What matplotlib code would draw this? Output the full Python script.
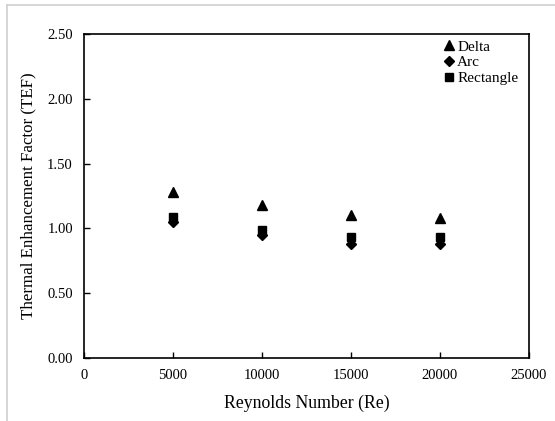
import matplotlib
matplotlib.use('Agg')
import matplotlib.pyplot as plt
from matplotlib.lines import Line2D

re_values = [5000, 10000, 15000, 20000]
tef_delta = [1.28, 1.18, 1.10, 1.08]
tef_arc = [1.05, 0.95, 0.88, 0.88]
tef_rect = [1.09, 0.99, 0.93, 0.93]

x_ticks = [0, 5000, 10000, 15000, 20000, 25000]
y_ticks = [0.0, 0.5, 1.0, 1.5, 2.0, 2.5]

plt.rcParams['font.family'] = ['Liberation Serif', 'DejaVu Serif']

fig = plt.figure(figsize=(5.55, 4.21), dpi=100)
ax = fig.add_axes([84 / 555, 1 - 358 / 421, 445 / 555, 324 / 421])

ax.plot(re_values, tef_delta, linestyle='none', marker='^', color='black',
        markersize=7, label='Delta')
ax.plot(re_values, tef_arc, linestyle='none', marker='D', color='black',
        markersize=5.5, label='Arc')
ax.plot(re_values, tef_rect, linestyle='none', marker='s', color='black',
        markersize=5.5, label='Rectangle')

ax.set_xlim(0, 25000)
ax.set_ylim(0, 2.5)
ax.set_xticks(x_ticks)
ax.set_yticks(y_ticks)
ax.set_yticklabels([f'{v:.2f}' for v in y_ticks])
ax.tick_params(direction='in', length=4, width=1, labelsize=10.5, pad=8)
for s in ax.spines.values():
    s.set_linewidth(1.2)

ax.set_xlabel('Reynolds Number (Re)', fontsize=12.8, labelpad=9)
ax.set_ylabel('Thermal Enhancement Factor (TEF)', fontsize=12.2, labelpad=8)

ax.legend(loc='upper right', frameon=False, fontsize=11, handlelength=0.7,
          handletextpad=0.2, labelspacing=0.12, borderaxespad=0.0,
          bbox_to_anchor=(0.99, 1.0))

# light gray frame around the picture (left and top edges visible)
fig.add_artist(Line2D([7 / 555, 7 / 555], [0, 1 - 5 / 421], color='#d0d0d0',
                      linewidth=1.2, transform=fig.transFigure))
fig.add_artist(Line2D([7 / 555, 1], [1 - 5 / 421, 1 - 5 / 421], color='#d0d0d0',
                      linewidth=1.2, transform=fig.transFigure))

fig.savefig('out.png', dpi=100)
